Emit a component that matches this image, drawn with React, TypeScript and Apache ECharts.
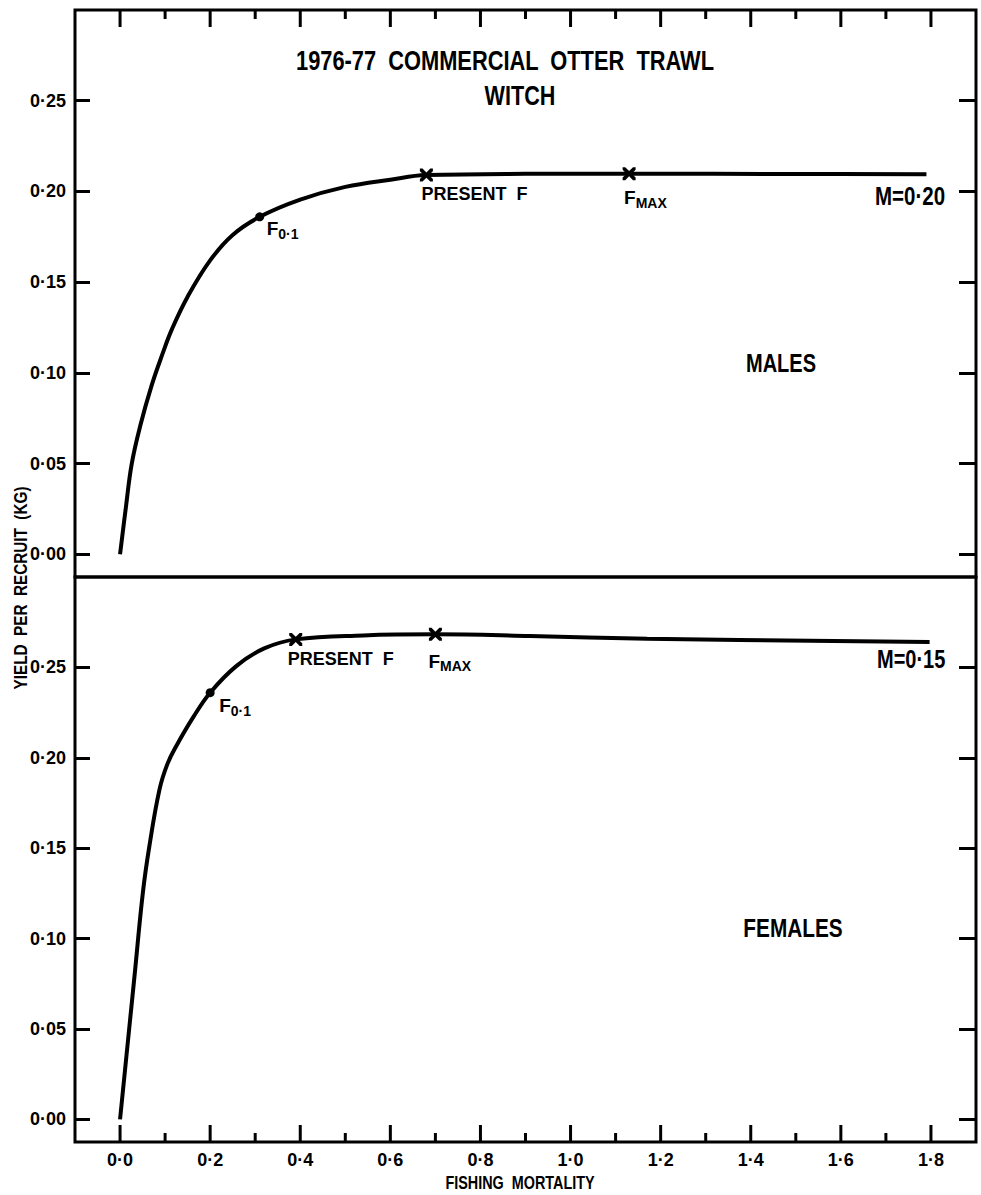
import React, { useEffect, useRef } from 'react';
import * as echarts from 'echarts';

// ---- data ----
const xMajorTicks = [0, 0.2, 0.4, 0.6, 0.8, 1.0, 1.2, 1.4, 1.6, 1.8];
const xMinorTicks = [0.1, 0.3, 0.5, 0.7, 0.9, 1.1, 1.3, 1.5, 1.7];
const yTicks = [0, 0.05, 0.1, 0.15, 0.2, 0.25];
const X_MIN = -0.1;
const X_MAX = 1.9;
const Y_MIN = -0.0125;
const Y_MAX = 0.3;

const maleF = [0, 0.013, 0.026, 0.045, 0.07, 0.095, 0.115, 0.15, 0.2, 0.25, 0.31, 0.4, 0.5, 0.6, 0.68, 0.9, 1.13, 1.5, 1.79];
const maleY = [0, 0.026, 0.05, 0.071, 0.093, 0.111, 0.124, 0.142, 0.162, 0.176, 0.186, 0.1955, 0.2025, 0.2065, 0.209, 0.2097, 0.2098, 0.2096, 0.2095];

const femaleF = [0, 0.0207, 0.032, 0.0505, 0.065, 0.0875, 0.105, 0.1246, 0.1618, 0.2, 0.258, 0.32, 0.39, 0.54, 0.7, 0.91, 1.17, 1.797];
const femaleY = [0, 0.0512, 0.079, 0.1251, 0.151, 0.1824, 0.1965, 0.2064, 0.2222, 0.236, 0.2507, 0.2605, 0.2655, 0.2677, 0.2683, 0.2674, 0.2659, 0.264];

const markKinds = ['dot', 'x', 'x'];
const markTexts = ['{f|F}{s|0·1}', 'PRESENT  F', '{f|F}{s|MAX}'];
const maleMarkF = [0.31, 0.68, 1.13];
const maleMarkY = [0.186, 0.209, 0.2098];
const femaleMarkF = [0.2, 0.39, 0.7];
const femaleMarkY = [0.236, 0.2655, 0.2683];

const maleM = 'M=0·20';
const femaleM = 'M=0·15';
const titleText = '1976-77  COMMERCIAL  OTTER  TRAWL';
const subTitle = 'WITCH';
const yName = 'YIELD  PER  RECRUIT  (KG)';
const xName = 'FISHING  MORTALITY';

// ---- styles ----
const FONT = '"Liberation Sans", Arial, sans-serif';
const maleOffsets = [[7, 0], [-5, 10], [-5, 12]];
const femaleOffsets = [[9, 1], [-8, 11], [-7, 15]];
const XPATH = 'path://M0,0L2,0L5,3L8,0L10,0L10,2L7,5L10,8L10,10L8,10L5,7L2,10L0,10L0,8L3,5L0,2Z';
const MAJOR_LEN = 17;
const MINOR_LEN = 9;

const fmtY = (v: number) => v.toFixed(2).replace('.', '·');
const fmtX = (v: number) => v.toFixed(1).replace('.', '·');

const richLabel = {
  f: { fontSize: 19, fontFamily: FONT, fontWeight: 'bold', color: '#000' },
  s: { fontSize: 14, fontFamily: FONT, fontWeight: 'bold', color: '#000', padding: [10, 0, 0, 0] },
};

function markerData(fs: number[], ys: number[], offsets: number[][]) {
  return fs.map((f, i) => ({
    value: [f, ys[i]],
    symbol: markKinds[i] === 'dot' ? 'circle' : XPATH,
    symbolSize: markKinds[i] === 'dot' ? 9 : 13,
    label: {
      show: true,
      position: 'inside',
      align: 'left',
      verticalAlign: 'top',
      offset: offsets[i],
      formatter: markTexts[i],
      color: '#000',
      fontFamily: FONT,
      fontWeight: 'bold',
      fontSize: 18,
      rich: richLabel,
    },
  }));
}

const tickLine = { color: '#000', width: 3 };

function xAxis(gridIndex: number, position: string, labels: boolean) {
  return {
    type: 'value',
    gridIndex,
    position,
    min: X_MIN,
    max: X_MAX,
    axisLine: { show: false, onZero: false },
    splitLine: { show: false },
    axisTick: { show: false },
    axisLabel: labels
      ? { show: true, customValues: xMajorTicks, formatter: fmtX, color: '#000', fontFamily: FONT, fontWeight: 'bold', fontSize: 18, margin: 9 }
      : { show: false },
  };
}

function yAxis(gridIndex: number, position: string, len: number, labels: boolean) {
  return {
    type: 'value',
    gridIndex,
    position,
    min: Y_MIN,
    max: Y_MAX,
    axisLine: { show: false, onZero: false },
    splitLine: { show: false },
    axisTick: { show: true, inside: true, length: len, customValues: yTicks, lineStyle: tickLine },
    axisLabel: labels
      ? { show: true, customValues: yTicks, formatter: fmtY, color: '#000', fontFamily: FONT, fontWeight: 'bold', fontSize: 18, margin: 9 }
      : { show: false },
  };
}

const ts = (size: number, text: string, align = 'center') => ({
  fill: '#000', fontFamily: FONT, fontWeight: 'bold', fontSize: size, text, align, verticalAlign: 'middle',
});

function textGraphics() {
  return [
    { type: 'text', x: 505, y: 60, scaleX: 0.78, style: ts(28, titleText) },
    { type: 'text', x: 520, y: 96, scaleX: 0.8, style: ts(27, subTitle) },
    { type: 'text', x: 781, y: 364, scaleX: 0.8, style: ts(25, 'MALES') },
    { type: 'text', x: 793, y: 928, scaleX: 0.8, style: ts(26, 'FEMALES') },
    { type: 'text', x: 875, y: 196, scaleX: 0.82, style: ts(25, maleM, 'left') },
    { type: 'text', x: 877, y: 660, scaleX: 0.8, style: ts(25, femaleM, 'left') },
    { type: 'text', x: 520, y: 1182, scaleX: 0.8, style: ts(18, xName) },
    { type: 'text', x: 21, y: 588, rotation: Math.PI / 2, scaleX: 0.85, style: ts(18, yName) },
  ];
}

function buildOption() {
  const frame = { left: 75, width: 901, show: true, borderColor: '#000', borderWidth: 3, backgroundColor: 'transparent' };
  return {
    animation: false,
    backgroundColor: '#fff',
    grid: [
      { ...frame, top: 10, height: 567 },
      { ...frame, top: 577, height: 565 },
    ],
    xAxis: [xAxis(0, 'top', false), xAxis(1, 'bottom', true)],
    yAxis: [
      yAxis(0, 'left', 15, true),
      yAxis(0, 'right', 17, false),
      yAxis(1, 'left', 15, true),
      yAxis(1, 'right', 17, false),
    ],
    series: [
      {
        type: 'line',
        xAxisIndex: 0,
        yAxisIndex: 0,
        data: maleF.map((f, i) => [f, maleY[i]]),
        smooth: 0.4,
        showSymbol: false,
        lineStyle: { color: '#000', width: 4 },
      },
      {
        type: 'scatter',
        xAxisIndex: 0,
        yAxisIndex: 0,
        data: markerData(maleMarkF, maleMarkY, maleOffsets),
        itemStyle: { color: '#000', opacity: 1 },
        z: 3,
      },
      {
        type: 'line',
        xAxisIndex: 1,
        yAxisIndex: 2,
        data: femaleF.map((f, i) => [f, femaleY[i]]),
        smooth: 0.4,
        showSymbol: false,
        lineStyle: { color: '#000', width: 4 },
      },
      {
        type: 'scatter',
        xAxisIndex: 1,
        yAxisIndex: 2,
        data: markerData(femaleMarkF, femaleMarkY, femaleOffsets),
        itemStyle: { color: '#000', opacity: 1 },
        z: 3,
      },
    ],
    graphic: textGraphics(),
  };
}

// frame ticks on the top and bottom edges, placed through the axes' own scales
function edgeTickGraphics(chart: any) {
  const out: any[] = [];
  const specs: [number, number, number, number, number[]][] = [
    [0, 0, Y_MAX, 1, xMajorTicks],
    [0, 0, Y_MAX, 1, xMinorTicks],
    [1, 2, Y_MIN, -1, xMajorTicks],
    [1, 2, Y_MIN, -1, xMinorTicks],
  ];
  specs.forEach(([xi, yi, edge, dir, values]) => {
    const len = values === xMajorTicks ? MAJOR_LEN : MINOR_LEN;
    values.forEach((v) => {
      const p = chart.convertToPixel({ xAxisIndex: xi, yAxisIndex: yi }, [v, edge]);
      if (p && isFinite(p[0]) && isFinite(p[1])) {
        out.push({
          type: 'line',
          z: 100,
          shape: { x1: p[0], y1: p[1], x2: p[0], y2: p[1] + dir * len },
          style: { stroke: '#000', lineWidth: 3 },
        });
      }
    });
  });
  return out;
}

export default function App() {
  const ref = useRef<HTMLDivElement>(null);
  useEffect(() => {
    const chart = echarts.init(ref.current!, null, { renderer: 'svg' });
    chart.setOption(buildOption() as any);
    try {
      const ticks = edgeTickGraphics(chart);
      if (ticks.length) chart.setOption({ graphic: [...textGraphics(), ...ticks] } as any);
    } catch (e) {
      // keep the chart as drawn
    }
    return () => chart.dispose();
  }, []);
  return (
    <div
      ref={ref}
      style={{ position: 'absolute', left: 0, top: 0, width: 981, height: 1195, background: '#fff' }}
    />
  );
}
